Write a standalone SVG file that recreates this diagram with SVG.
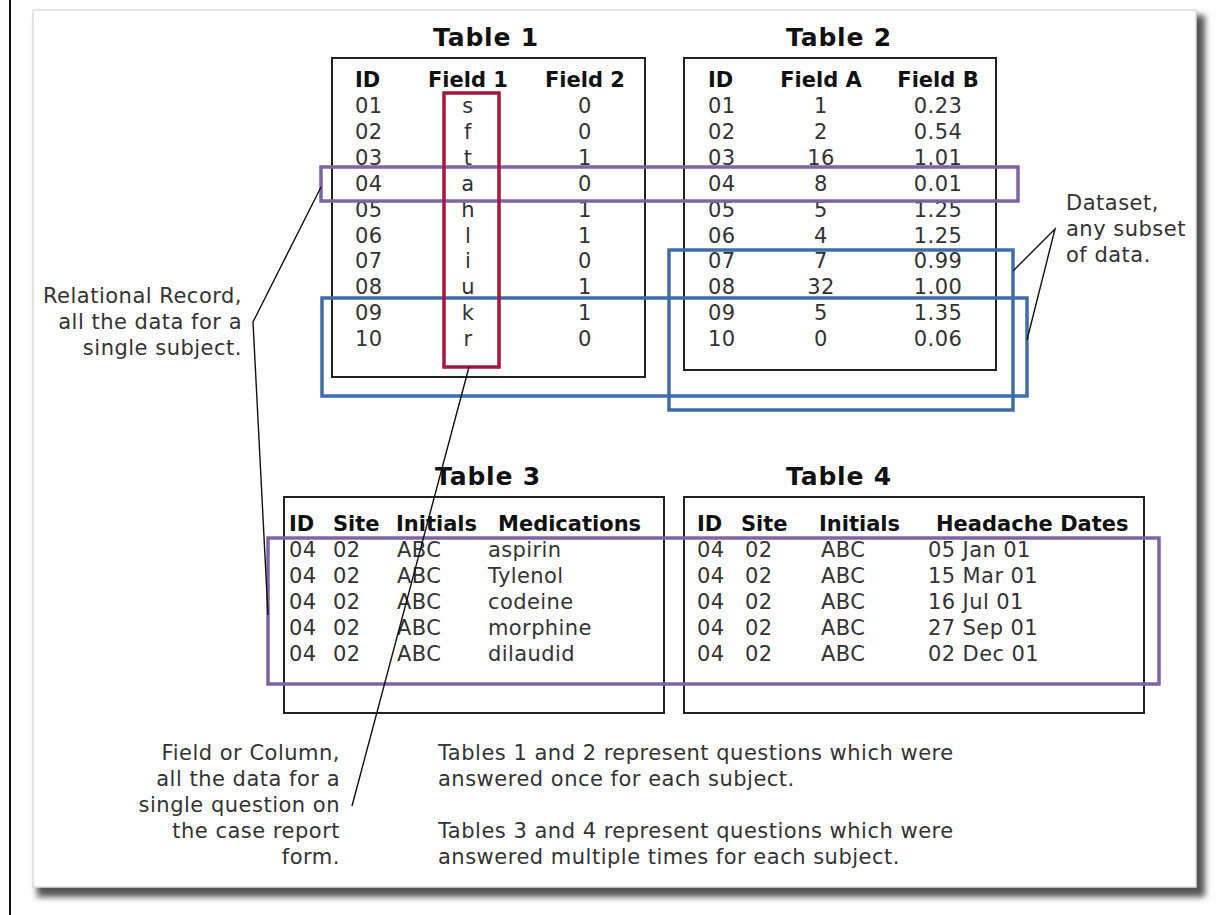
<svg xmlns="http://www.w3.org/2000/svg" width="1222" height="915" viewBox="0 0 1222 915">
  <defs>
    <filter id="panelShadow" x="-5%" y="-5%" width="110%" height="110%">
      <feGaussianBlur stdDeviation="3"/>
    </filter>
    <style>
      text { font-family: "DejaVu Sans", Verdana, sans-serif; }
      .title { font-size: 25px; font-weight: bold; fill: #111; text-anchor: middle; letter-spacing: 0.8px; }
      .hdr { font-size: 21px; font-weight: bold; fill: #111; }
      .cell { font-size: 21px; fill: #333; letter-spacing: 0.4px; }
      .mid { text-anchor: middle; }
      .note { font-size: 21px; fill: #333; letter-spacing: 0.5px; }
      .rt { text-anchor: end; }
      .tbl { fill: none; stroke: #222; stroke-width: 2; }
      .rec { fill: none; stroke: #7f63a3; stroke-width: 3.5; }
      .set { fill: none; stroke: #3d6ea6; stroke-width: 3.5; }
      .col { fill: none; stroke: #a3183f; stroke-width: 3.5; }
      .lead { fill: none; stroke: #111; stroke-width: 1.4; }
    </style>
  </defs>

  <!-- page edge -->
  <line x1="10" y1="0" x2="10" y2="915" stroke="#111" stroke-width="2"/>

  <!-- panel with drop shadow -->
  <rect x="37" y="15" width="1168" height="882" fill="#555" filter="url(#panelShadow)"/>
  <rect x="33" y="10" width="1163" height="877" fill="#fff" stroke="#ddd" stroke-width="1.5"/>

  <!-- Table 1 -->
  <g id="table1">
    <text class="title" x="486" y="46">Table 1</text>
    <rect class="tbl" x="332" y="58" width="313" height="319"/>
    <text class="hdr" x="355" y="87">ID</text>
    <text class="hdr mid" x="468" y="87">Field 1</text>
    <text class="hdr mid" x="585" y="87">Field 2</text>
    <g class="cell">
      <text x="355" y="113">01</text><text class="mid" x="468" y="113">s</text><text class="mid" x="585" y="113">0</text>
      <text x="355" y="139">02</text><text class="mid" x="468" y="139">f</text><text class="mid" x="585" y="139">0</text>
      <text x="355" y="165">03</text><text class="mid" x="468" y="165">t</text><text class="mid" x="585" y="165">1</text>
      <text x="355" y="191">04</text><text class="mid" x="468" y="191">a</text><text class="mid" x="585" y="191">0</text>
      <text x="355" y="217">05</text><text class="mid" x="468" y="217">h</text><text class="mid" x="585" y="217">1</text>
      <text x="355" y="243">06</text><text class="mid" x="468" y="243">l</text><text class="mid" x="585" y="243">1</text>
      <text x="355" y="268">07</text><text class="mid" x="468" y="268">i</text><text class="mid" x="585" y="268">0</text>
      <text x="355" y="294">08</text><text class="mid" x="468" y="294">u</text><text class="mid" x="585" y="294">1</text>
      <text x="355" y="320">09</text><text class="mid" x="468" y="320">k</text><text class="mid" x="585" y="320">1</text>
      <text x="355" y="346">10</text><text class="mid" x="468" y="346">r</text><text class="mid" x="585" y="346">0</text>
    </g>
  </g>

  <!-- Table 2 -->
  <g id="table2">
    <text class="title" x="839" y="46">Table 2</text>
    <rect class="tbl" x="684" y="58" width="312" height="312"/>
    <text class="hdr" x="708" y="87">ID</text>
    <text class="hdr mid" x="821" y="87">Field A</text>
    <text class="hdr mid" x="938" y="87">Field B</text>
    <g class="cell">
      <text x="708" y="113">01</text><text class="mid" x="821" y="113">1</text><text class="mid" x="938" y="113">0.23</text>
      <text x="708" y="139">02</text><text class="mid" x="821" y="139">2</text><text class="mid" x="938" y="139">0.54</text>
      <text x="708" y="165">03</text><text class="mid" x="821" y="165">16</text><text class="mid" x="938" y="165">1.01</text>
      <text x="708" y="191">04</text><text class="mid" x="821" y="191">8</text><text class="mid" x="938" y="191">0.01</text>
      <text x="708" y="217">05</text><text class="mid" x="821" y="217">5</text><text class="mid" x="938" y="217">1.25</text>
      <text x="708" y="243">06</text><text class="mid" x="821" y="243">4</text><text class="mid" x="938" y="243">1.25</text>
      <text x="708" y="268">07</text><text class="mid" x="821" y="268">7</text><text class="mid" x="938" y="268">0.99</text>
      <text x="708" y="294">08</text><text class="mid" x="821" y="294">32</text><text class="mid" x="938" y="294">1.00</text>
      <text x="708" y="320">09</text><text class="mid" x="821" y="320">5</text><text class="mid" x="938" y="320">1.35</text>
      <text x="708" y="346">10</text><text class="mid" x="821" y="346">0</text><text class="mid" x="938" y="346">0.06</text>
    </g>
  </g>

  <!-- Table 3 -->
  <g id="table3">
    <text class="title" x="488" y="485">Table 3</text>
    <rect class="tbl" x="284" y="497" width="380" height="216"/>
    <text class="hdr" x="289" y="531">ID</text>
    <text class="hdr" x="333" y="531">Site</text>
    <text class="hdr" x="396" y="531">Initials</text>
    <text class="hdr" x="498" y="531">Medications</text>
    <g class="cell">
      <text x="289" y="557">04</text><text x="333" y="557">02</text><text x="397" y="557">ABC</text><text x="488" y="557">aspirin</text>
      <text x="289" y="583">04</text><text x="333" y="583">02</text><text x="397" y="583">ABC</text><text x="488" y="583">Tylenol</text>
      <text x="289" y="609">04</text><text x="333" y="609">02</text><text x="397" y="609">ABC</text><text x="488" y="609">codeine</text>
      <text x="289" y="635">04</text><text x="333" y="635">02</text><text x="397" y="635">ABC</text><text x="488" y="635">morphine</text>
      <text x="289" y="661">04</text><text x="333" y="661">02</text><text x="397" y="661">ABC</text><text x="488" y="661">dilaudid</text>
    </g>
  </g>

  <!-- Table 4 -->
  <g id="table4">
    <text class="title" x="839" y="485">Table 4</text>
    <rect class="tbl" x="684" y="497" width="460" height="216"/>
    <text class="hdr" x="697" y="531">ID</text>
    <text class="hdr" x="741" y="531">Site</text>
    <text class="hdr" x="819" y="531">Initials</text>
    <text class="hdr" x="936" y="531">Headache Dates</text>
    <g class="cell">
      <text x="697" y="557">04</text><text x="745" y="557">02</text><text x="821" y="557">ABC</text><text x="928" y="557">05 Jan 01</text>
      <text x="697" y="583">04</text><text x="745" y="583">02</text><text x="821" y="583">ABC</text><text x="928" y="583">15 Mar 01</text>
      <text x="697" y="609">04</text><text x="745" y="609">02</text><text x="821" y="609">ABC</text><text x="928" y="609">16 Jul 01</text>
      <text x="697" y="635">04</text><text x="745" y="635">02</text><text x="821" y="635">ABC</text><text x="928" y="635">27 Sep 01</text>
      <text x="697" y="661">04</text><text x="745" y="661">02</text><text x="821" y="661">ABC</text><text x="928" y="661">02 Dec 01</text>
    </g>
  </g>

  <!-- highlight outlines: record (purple), dataset (blue), field (red) -->
  <g id="highlights">
    <rect class="rec" x="321" y="167" width="697" height="34"/>
    <rect class="rec" x="268" y="538" width="891" height="146"/>
    <rect class="set" x="669" y="250" width="344" height="160"/>
    <rect class="set" x="322" y="298" width="705" height="98"/>
    <rect class="col" x="444" y="93" width="55" height="274"/>
  </g>

  <!-- annotation labels -->
  <g id="label-record">
    <text class="note rt" x="242" y="303">Relational Record,</text>
    <text class="note rt" x="242" y="329">all the data for a</text>
    <text class="note rt" x="242" y="355">single subject.</text>
  </g>
  <g id="label-dataset">
    <text class="note" x="1066" y="210">Dataset,</text>
    <text class="note" x="1066" y="236">any subset</text>
    <text class="note" x="1066" y="262">of data.</text>
  </g>
  <g id="label-field">
    <text class="note rt" x="340" y="760">Field or Column,</text>
    <text class="note rt" x="340" y="786">all the data for a</text>
    <text class="note rt" x="340" y="812">single question on</text>
    <text class="note rt" x="340" y="838">the case report</text>
    <text class="note rt" x="340" y="864">form.</text>
  </g>
  <g id="notes">
    <text class="note" x="438" y="760">Tables 1 and 2 represent questions which were</text>
    <text class="note" x="438" y="786">answered once for each subject.</text>
    <text class="note" x="438" y="838">Tables 3 and 4 represent questions which were</text>
    <text class="note" x="438" y="864">answered multiple times for each subject.</text>
  </g>

  <!-- leader lines -->
  <g id="connectors">
    <polyline class="lead" points="321,187 253,322 268,615"/>
    <line class="lead" x1="469" y1="367" x2="352" y2="806"/>
    <polyline class="lead" points="1013,271 1055,229 1027,340"/>
  </g>
</svg>
